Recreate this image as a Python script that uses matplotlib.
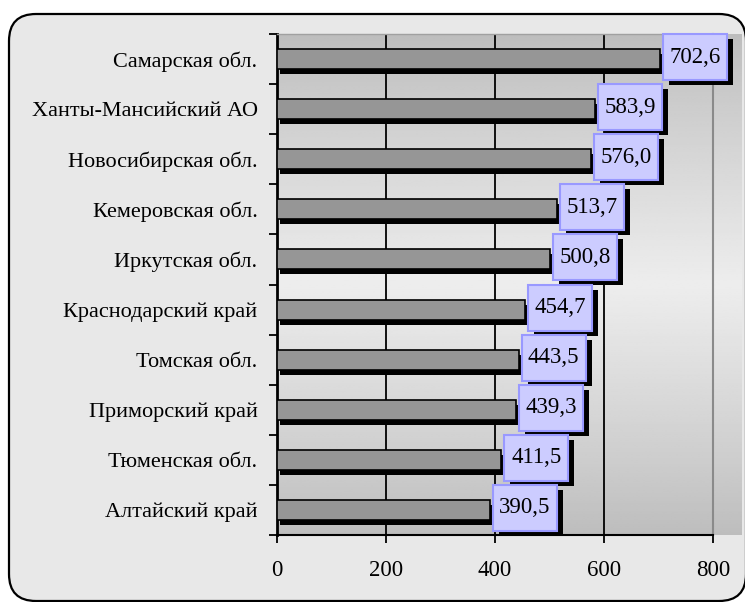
import matplotlib
matplotlib.use("Agg")
import matplotlib.pyplot as plt
import numpy as np
from matplotlib.patches import Rectangle, FancyBboxPatch
from matplotlib.transforms import IdentityTransform

plt.rcParams['font.family'] = ['Liberation Serif', 'DejaVu Serif']

regions = ["Самарская обл.", "Ханты-Мансийский АО", "Новосибирская обл.",
           "Кемеровская обл.", "Иркутская обл.", "Краснодарский край",
           "Томская обл.", "Приморский край", "Тюменская обл.", "Алтайский край"]
values = [702.6, 583.9, 576.0, 513.7, 500.8, 454.7, 443.5, 439.3, 411.5, 390.5]
value_labels = ["702,6", "583,9", "576,0", "513,7", "500,8",
                "454,7", "443,5", "439,3", "411,5", "390,5"]
x_ticks = [0, 200, 400, 600, 800]

W, H, DPI = 745, 602, 100
FS_CAT = 16
FS_NUM = 16.5
fig = plt.figure(figsize=(W / DPI, H / DPI), dpi=DPI, facecolor='white')

frame = FancyBboxPatch((0.09, 0.01), 7.37, 5.87,
                       boxstyle="round,pad=0,rounding_size=0.27",
                       transform=fig.dpi_scale_trans, facecolor='#e8e8e8',
                       edgecolor='black', lw=1.6, zorder=0)
fig.add_artist(frame)

# gradient plot-area background
bg = fig.add_axes([277 / W, 67 / H, (742 - 277) / W, 501 / H])
t = np.linspace(0, 1, 256)
shade = 0.74 + 0.19 * (1 - np.abs(2 * t - 1)) ** 0.9
bg.imshow(shade[:, None], cmap='gray', vmin=0, vmax=1, aspect='auto',
          extent=[0, 1, 0, 1], interpolation='bilinear')
bg.axis('off')

ax = fig.add_axes([277 / W, 67 / H, 436 / W, 501 / H])
ax.set_facecolor('none')
n = len(regions)
y = np.arange(n)
ax.set_xlim(0, 800)
ax.set_ylim(n - 0.5, -0.5)

ax.vlines(x_ticks[1:-1], -0.5, n - 0.5, color='black', lw=1.3, zorder=1)

# bar shadows and bars
ax.barh(y + 0.1, values, height=0.4, left=5.5, color='black', zorder=2)
ax.barh(y, values, height=0.4, color='#969696', edgecolor='black',
        lw=1.2, zorder=3)

ax.set_xticks(x_ticks)
ax.set_xticklabels([str(v) for v in x_ticks])
ax.tick_params(axis='x', direction='out', length=6, width=1.3, pad=12,
               labelsize=FS_NUM)
ax.set_yticks(np.arange(-0.5, n, 1.0))
ax.set_yticklabels([])
ax.set_yticks(y, minor=True)
ax.set_yticklabels(regions, minor=True)
ax.tick_params(axis='y', which='major', direction='out', length=6, width=1.3)
ax.tick_params(axis='y', which='minor', length=0, pad=14, labelsize=FS_CAT)

ax.spines['left'].set_linewidth(2)
ax.spines['bottom'].set_linewidth(1.5)
ax.spines['right'].set_color('#8a8a8a')
ax.spines['right'].set_linewidth(1.5)
ax.spines['top'].set_color('#a0a0a0')
ax.spines['top'].set_linewidth(1)

BW, BH = 64, 46
for i, (v, lab) in enumerate(zip(values, value_labels)):
    px, py = ax.transData.transform((v, i))
    bx = px + 3
    by = py + 2 - BH / 2
    sh = Rectangle((bx + 6, by - 5), BW, BH, transform=IdentityTransform(),
                   facecolor='black', edgecolor='none', zorder=5, clip_on=False)
    box = Rectangle((bx, by), BW, BH, transform=IdentityTransform(),
                    facecolor='#ccccff', edgecolor='#9999ff', lw=1.5,
                    zorder=6, clip_on=False)
    ax.add_artist(sh)
    ax.add_artist(box)
    ax.text(bx + BW / 2, by + BH / 2, lab, transform=IdentityTransform(),
            ha='center', va='center', fontsize=FS_NUM, zorder=7)

fig.savefig('out.png', dpi=DPI, facecolor='white')
